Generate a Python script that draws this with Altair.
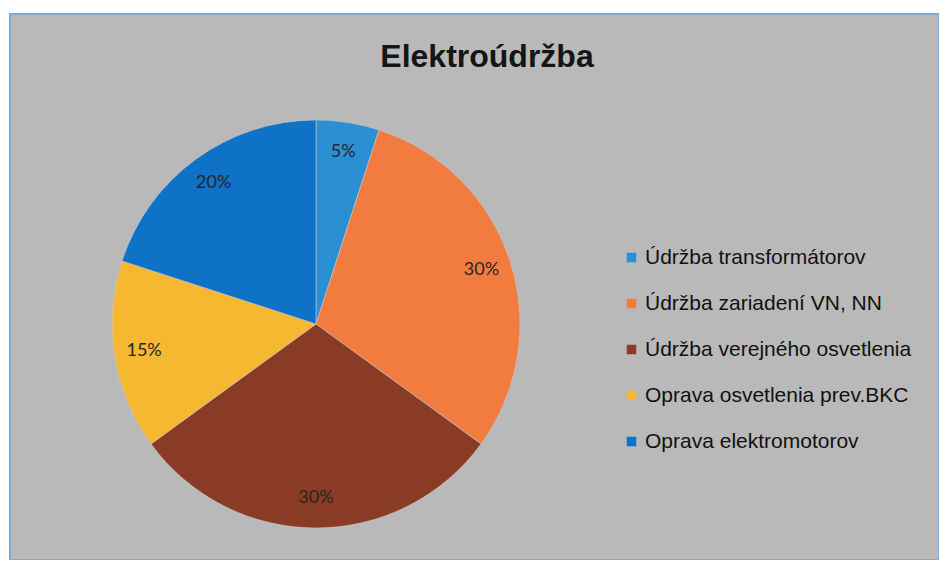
import altair as alt
import pandas as pd

categories = [
    "Údržba transformátorov",
    "Údržba zariadení VN, NN",
    "Údržba verejného osvetlenia",
    "Oprava osvetlenia prev.BKC",
    "Oprava elektromotorov",
]
values = [5, 30, 30, 15, 20]
labels = ["5%", "30%", "30%", "15%", "20%"]
colors = ["#2b8fd4", "#f27c40", "#8a3b26", "#f6b731", "#0e72c6"]
title_text = "Elektroúdržba"

df = pd.DataFrame({
    "kategoria": categories,
    "hodnota": values,
    "label": labels,
    "idx": list(range(len(categories))),
})

cx, cy = 306, 310
R = 204

base = alt.Chart(df).encode(
    theta=alt.Theta("hodnota:Q", stack=True),
    order=alt.Order("idx:Q"),
)

pie = base.mark_arc(outerRadius=R, stroke="#c8c8c8", strokeWidth=0.6).encode(
    color=alt.Color(
        "kategoria:N",
        scale=alt.Scale(domain=categories, range=colors),
        legend=alt.Legend(
            title=None,
            orient="none",
            legendX=611,
            legendY=233,
            symbolType="square",
            symbolSize=90,
            symbolStrokeWidth=0,
            labelFontSize=21,
            labelFont="Liberation Sans",
            labelColor="#111111",
            labelOffset=3,
            rowPadding=24,
            labelLimit=400,
            padding=0,
        ),
    ),
    x=alt.value(cx),
    y=alt.value(cy),
)

text = base.mark_text(
    radius=174, fontSize=18, font="Lato", color="#262626"
).encode(
    text="label:N",
    x=alt.value(cx),
    y=alt.value(cy),
)

title_df = pd.DataFrame({"t": [title_text]})
title = alt.Chart(title_df).mark_text(
    fontSize=32, fontWeight="bold", font="Liberation Sans", color="#151515",
    align="center", baseline="middle",
).encode(text="t:N", x=alt.value(477), y=alt.value(43))

chart = alt.layer(pie, text, title).properties(
    width=929,
    height=546,
    padding={"left": 2, "top": 6, "right": 0, "bottom": 0},
    background="white",
).configure_view(
    fill="#b9b9b9",
    stroke="#7fa9cf",
    strokeWidth=2,
)

chart.save("out.html", embed_options={"renderer": "svg", "actions": False})
